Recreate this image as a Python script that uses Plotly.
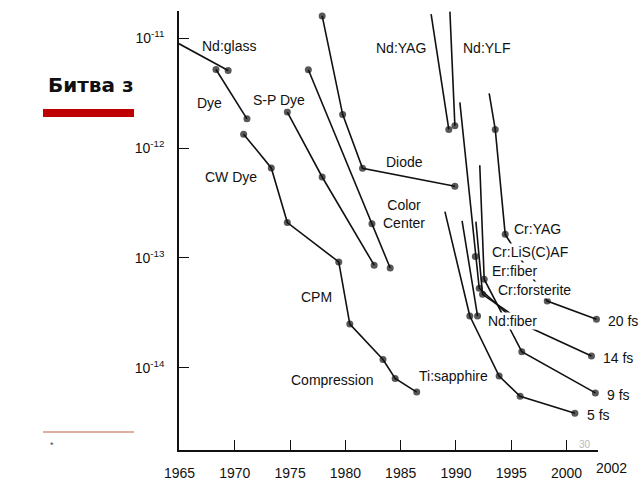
import numpy as np
import plotly.graph_objects as go

# pulse duration (s) against year
nd_glass_year = [1964.8, 1969.4]
nd_glass_sec = [9.1e-12, 5.1e-12]

dye_year = [1968.3, 1971.1]
dye_sec = [5.2e-12, 1.85e-12]

# CW dye -> CPM -> compression
cw_year = [1970.8, 1973.3, 1974.75, 1979.4, 1980.4, 1983.4, 1984.5, 1986.45]
cw_sec = [1.34e-12, 6.6e-13, 2.1e-13, 9.2e-14, 2.5e-14, 1.19e-14, 8.0e-15, 6.0e-15]

sp_dye_year = [1974.75, 1977.9, 1982.6]
sp_dye_sec = [2.13e-12, 5.46e-13, 8.6e-14]

color_center_year = [1976.65, 1982.4, 1984.05]
color_center_sec = [5.18e-12, 2.05e-13, 8.1e-14]

diode_year = [1977.9, 1979.75, 1981.55, 1989.9]
diode_sec = [1.6e-11, 2.03e-12, 6.55e-13, 4.5e-13]

nd_yag_year = [1987.75, 1989.35]
nd_yag_sec = [1.66e-11, 1.48e-12]

nd_ylf_year = [1989.45, 1989.9]
nd_ylf_sec = [1.75e-11, 1.6e-12]

cr_yag_year = [1993.0, 1993.55, 1994.45, 1998.25, 2002.7]
cr_yag_sec = [3.16e-12, 1.48e-12, 1.64e-13, 4.05e-14, 2.76e-14]

cr_lisaf_year = [1990.35, 1991.75, 1992.1, 1995.05]
cr_lisaf_sec = [2.61e-12, 1.03e-13, 5.3e-14, 2.84e-14]

cr_forst_year = [1991.8, 1992.4, 1997.0, 2002.25]
cr_forst_sec = [2.14e-13, 4.66e-14, 2.24e-14, 1.28e-14]

er_fiber_year = [1992.15, 1992.55, 1995.95, 2002.6]
er_fiber_sec = [7.0e-13, 6.4e-14, 1.4e-14, 5.9e-15]

nd_fiber_year = [1990.55, 1991.95]
nd_fiber_sec = [2.18e-13, 2.96e-14]

ti_sapph_year = [1989.0, 1991.25, 1993.9, 1995.8, 2000.75]
ti_sapph_sec = [2.64e-13, 2.96e-14, 8.4e-15, 5.5e-15, 3.85e-15]

# (years, seconds, indices drawn without a dot, end label)
series = [
    (nd_glass_year, nd_glass_sec, [], None),
    (dye_year, dye_sec, [], None),
    (cw_year, cw_sec, [], None),
    (sp_dye_year, sp_dye_sec, [], None),
    (color_center_year, color_center_sec, [], None),
    (diode_year, diode_sec, [], None),
    (nd_yag_year, nd_yag_sec, [0], None),
    (nd_ylf_year, nd_ylf_sec, [0], None),
    (cr_yag_year, cr_yag_sec, [0], "20 fs"),
    (cr_lisaf_year, cr_lisaf_sec, [0, 3], None),
    (cr_forst_year, cr_forst_sec, [0, 2], "14 fs"),
    (er_fiber_year, er_fiber_sec, [0], "9 fs"),
    (nd_fiber_year, nd_fiber_sec, [0], None),
    (ti_sapph_year, ti_sapph_sec, [0], "5 fs"),
]

label_text = ["Nd:glass", "Dye", "S-P Dye", "CW Dye", "Diode", "Color<br>Center",
              "Nd:YAG", "Nd:YLF", "Cr:YAG", "Cr:LiS(C)AF", "Er:fiber",
              "Cr:forsterite", "Nd:fiber", "Ti:sapphire", "CPM", "Compression"]
label_year = [1969.5, 1967.7, 1974.0, 1969.7, 1985.3, 1985.3,
              1985.0, 1992.8, 1997.4, 1996.7, 1995.3,
              1997.1, 1995.15, 1989.8, 1977.4, 1978.8]
label_sec = [8.6e-12, 2.6e-12, 2.74e-12, 5.5e-13, 7.5e-13, 2.5e-13,
             8.2e-12, 8.2e-12, 1.82e-13, 1.14e-13, 7.6e-14,
             5.1e-14, 2.68e-14, 8.4e-15, 4.4e-14, 7.7e-15]

tick_years = [1965, 1970, 1975, 1980, 1985, 1990, 1995, 2000]
tick_year_text = [str(y) for y in tick_years]
last_year_text = "2002"
tick_secs = [1e-11, 1e-12, 1e-13, 1e-14]
tick_sec_text = ["10<sup>-11</sup>", "10<sup>-12</sup>", "10<sup>-13</sup>", "10<sup>-14</sup>"]

INK = "#111111"
FONT = "Liberation Sans"

# plot area in pixels
L, R, T, B = 179, 598, 11, 450
W, H = R - L, B - T


def px(x):
    return (x - L) / W


def py(y):
    return (B - y) / H


fig = go.Figure()

for yrs, secs, nodot, _ in series:
    sizes = [0 if i in nodot else 7 for i in range(len(yrs))]
    fig.add_trace(go.Scatter(
        x=yrs, y=secs, mode="lines+markers",
        line=dict(color=INK, width=1.6),
        marker=dict(color=INK, size=sizes, line=dict(width=0)),
        showlegend=False, hoverinfo="skip", cliponaxis=False,
    ))

annotations = []
for txt, yr, s in zip(label_text, label_year, label_sec):
    annotations.append(dict(
        x=yr, y=np.log10(s), xref="x", yref="y", text=txt, showarrow=False,
        font=dict(family=FONT, size=14, color=INK), bgcolor="white", borderpad=0,
    ))

# "fs" labels sit just right of each series end point
for yrs, secs, _, end in series:
    if end:
        annotations.append(dict(
            x=yrs[-1], y=np.log10(secs[-1]), xref="x", yref="y", text=end,
            showarrow=False, xanchor="left", xshift=10, yshift=-2,
            font=dict(family=FONT, size=14, color=INK),
        ))


def paper_text(x, y, text, size, color, family=FONT, xanchor="center"):
    return dict(x=px(x), y=py(y), xref="paper", yref="paper", text=text,
                showarrow=False, xanchor=xanchor, yanchor="middle",
                font=dict(family=family, size=size, color=color))


annotations += [
    paper_text(611, 468, last_year_text, 14, INK),
    # slide decoration behind the scanned chart
    paper_text(46, 85, "<b>Битва з</b>", 20, "#111111", "DejaVu Sans", "left"),
    paper_text(52, 445, "*", 9, "#444444"),
    paper_text(585, 444, "30", 10, "#b8b8b8"),
]

shapes = [
    dict(type="rect", xref="paper", yref="paper", x0=px(43), x1=px(134),
         y0=py(117), y1=py(109), fillcolor="#c00000", line=dict(width=0)),
    dict(type="line", xref="paper", yref="paper", x0=px(43), x1=px(134),
         y0=py(432), y1=py(432), line=dict(color="#d69184", width=1.5)),
]

fig.update_layout(
    width=640, height=480,
    margin=dict(l=L, r=640 - R, t=T, b=480 - B, pad=0),
    paper_bgcolor="white", plot_bgcolor="white",
    annotations=annotations, shapes=shapes,
    xaxis=dict(
        range=[1964.955, 2002.84], showgrid=False, zeroline=False, automargin=False,
        showline=True, linecolor=INK, linewidth=1.5,
        ticks="inside", ticklen=10, tickwidth=1.3, tickcolor=INK,
        tickvals=tick_years, ticktext=tick_year_text, ticklabelstandoff=9,
        tickfont=dict(family=FONT, size=14, color=INK),
    ),
    yaxis=dict(
        type="log", range=[-14.749, -10.751], showgrid=False, zeroline=False,
        automargin=False,
        showline=True, linecolor=INK, linewidth=1.5,
        ticks="inside", ticklen=10, tickwidth=1.3, tickcolor=INK,
        tickvals=tick_secs, ticktext=tick_sec_text, ticklabelstandoff=10,
        tickfont=dict(family=FONT, size=14, color=INK),
    ),
)

# the page's default body margin would push the 640x480 figure off the window
fig.write_html("out.html", config={"displayModeBar": False},
               post_script="document.body.style.margin='0';"
               "document.body.style.overflow='hidden';")
